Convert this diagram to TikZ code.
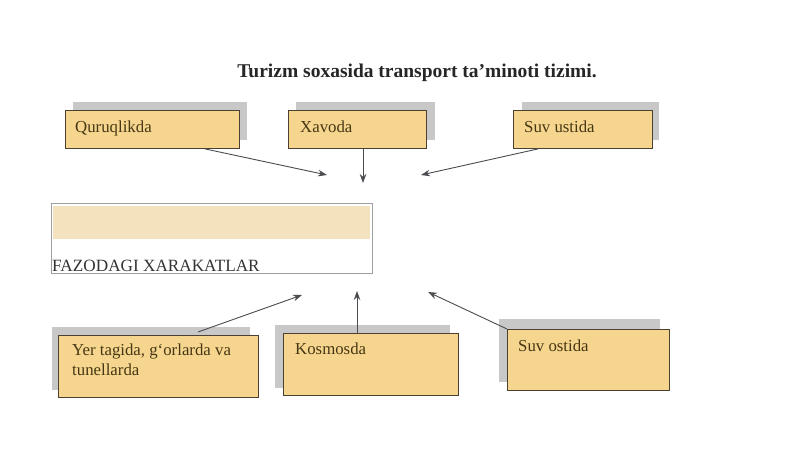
\documentclass[tikz,border=0pt]{standalone}
\usepackage{fontspec}
\setmainfont{Liberation Serif}
\usetikzlibrary{arrows.meta,calc}
\definecolor{boxfill}{RGB}{246,213,142}
\definecolor{boxline}{RGB}{75,65,50}
\definecolor{shadowc}{RGB}{200,200,200}
\definecolor{bandfill}{RGB}{244,226,190}
\definecolor{txtc}{RGB}{70,55,20}
\definecolor{arrc}{RGB}{75,75,80}
\begin{document}
\begin{tikzpicture}[x=1pt,y=-1pt,
  box/.style={draw=boxline,line width=0.9pt,fill=boxfill,anchor=north west,inner sep=0pt},
  shad/.style={fill=shadowc},
  lbl/.style={anchor=base west,inner sep=0pt,text=txtc,font=\fontsize{16.8}{20}\selectfont},
  conn/.style={draw=arrc,line width=0.9pt,-{Stealth[length=9pt,width=6.5pt]}}]
\useasboundingbox (0,0) rectangle (800,449);
\fill[white] (0,0) rectangle (800,449);
% title
\node[anchor=base,inner sep=0pt,font=\bfseries\fontsize{19.5}{23}\selectfont,text=black!85] (title) at (417,78) {Turizm soxasida transport ta'minoti tizimi.};
% shadows
\fill[shad] (73,102) rectangle (247,140);
\fill[shad] (296,102) rectangle (435,140);
\fill[shad] (522,102) rectangle (659,140);
\fill[shad] (52,327) rectangle (250,390);
\fill[shad] (275,325) rectangle (450,388);
\fill[shad] (499,319) rectangle (660,382);
% top boxes
\node[box,minimum width=174pt,minimum height=38pt] (q) at (65,110) {};
\node[lbl] (qt) at (75,133) {Quruqlikda};
\node[box,minimum width=138pt,minimum height=38pt] (x) at (288,110) {};
\node[lbl] (xt) at (300,133) {Xavoda};
\node[box,minimum width=139pt,minimum height=38pt] (s) at (513,110) {};
\node[lbl] (st) at (524,133) {Suv ustida};
% middle
\fill[bandfill] (53,206) rectangle (370,239);
\node[draw=gray!75,line width=0.8pt,anchor=north west,inner sep=0pt,minimum width=321pt,minimum height=70pt] (f) at (51,203) {};
\node[lbl,text=black!80,font=\fontsize{17.2}{20}\selectfont] (ft) at (52,271) {FAZODAGI XARAKATLAR};
% bottom boxes
\node[box,minimum width=200pt,minimum height=62pt] (y) at (58,335) {};
\node[lbl,align=left,anchor=north west] (yt) at (72,344) {Yer tagida, g‘orlarda va\\tunellarda};
\node[box,minimum width=175pt,minimum height=62pt] (k) at (283,333) {};
\node[lbl] (kt) at (295,354) {Kosmosda};
\node[box,minimum width=162pt,minimum height=61pt] (o) at (507,329) {};
\node[lbl] (ot) at (518,351) {Suv ostida};
% arrow ends
\coordinate (e1) at (327,175);
\coordinate (e2) at (363,183);
\coordinate (e3) at (421,175);
\coordinate (e4) at (302,295);
\coordinate (e5) at (357,291);
\coordinate (e6) at (428,292);
% connectors
\draw[conn] ([xshift=140pt]q.south west) -- (e1);
\draw[conn] ([xshift=75pt]x.south west) -- (e2);
\draw[conn] ([xshift=25pt]s.south west) -- (e3);
\draw[conn] ([xshift=140pt,yshift=3pt]y.north west) -- (e4);
\draw[conn] ([xshift=74pt]k.north west) -- (e5);
\draw[conn] (o.north west) -- (e6);
\end{tikzpicture}
\end{document}
